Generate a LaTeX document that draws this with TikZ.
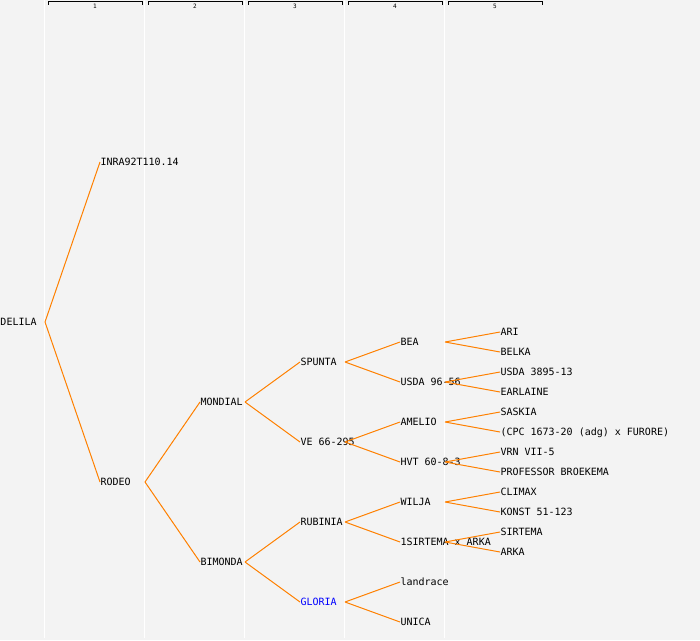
\documentclass[tikz,border=0pt]{standalone}
\usepackage{fontspec}
\newfontfamily\pedfont{DejaVu Sans Mono}
\definecolor{pedbg}{HTML}{F3F3F3}
\definecolor{pedline}{HTML}{FF8000}
\begin{document}
\begin{tikzpicture}[x=1pt,y=-1pt,line width=1pt]
      \tikzstyle{every node}=[inner sep=0pt,anchor=west,text height=7.3pt,text depth=0pt,font=\pedfont\fontsize{10}{12}\selectfont];
      \tikzstyle{edge}=[draw=pedline];
      \tikzstyle{hdr}=[anchor=center,text height=4.4pt,font=\pedfont\fontsize{6}{6}\selectfont];
      \useasboundingbox (0,0) rectangle (700,640);
      \fill[pedbg] (0,0) rectangle (700,640);

      % generation columns
      \foreach \c in {1,...,5} {
        \draw[white] (\c*100-55.5,0) -- (\c*100-55.5,638);
        \draw[black] (\c*100-52,4.5) -- (\c*100-52,1.5) -- (\c*100+42,1.5) -- (\c*100+42,4.5);
        \node[hdr] (h\c) at (\c*100-5,6.3) {\c};
      }

      \node (delila) at (0,322) {DELILA};
      \node (inra) at (100,162) {INRA92T110.14};
      \node (rodeo) at (100,482) {RODEO};
      \node (mondial) at (200,402) {MONDIAL};
      \node (bimonda) at (200,562) {BIMONDA};
      \node (spunta) at (300,362) {SPUNTA};
      \node (ve) at (300,442) {VE 66-295};
      \node (rubinia) at (300,522) {RUBINIA};
      \node[text=blue] (gloria) at (300,602) {GLORIA};
      \node (bea) at (400,342) {BEA};
      \node (usda) at (400,382) {USDA 96-56};
      \node (amelio) at (400,422) {AMELIO};
      \node (hvt) at (400,462) {HVT 60-8-3};
      \node (wilja) at (400,502) {WILJA};
      \node (sxa) at (400,542) {1SIRTEMA x ARKA};
      \node (landrace) at (400,582) {landrace};
      \node (unica) at (400,622) {UNICA};
      \node (ari) at (500,332) {ARI};
      \node (belka) at (500,352) {BELKA};
      \node (usdab) at (500,372) {USDA 3895-13};
      \node (earlaine) at (500,392) {EARLAINE};
      \node (saskia) at (500,412) {SASKIA};
      \node (cpc) at (500,432) {(CPC 1673-20 (adg) x FURORE)};
      \node (vrn) at (500,452) {VRN VII-5};
      \node (professor) at (500,472) {PROFESSOR BROEKEMA};
      \node (climax) at (500,492) {CLIMAX};
      \node (konst) at (500,512) {KONST 51-123};
      \node (sirtema) at (500,532) {SIRTEMA};
      \node (arka) at (500,552) {ARKA};

      % fork points
      \coordinate (delila-f) at (45,322);
      \coordinate (rodeo-f) at (145,482);
      \coordinate (mondial-f) at (245,402);
      \coordinate (bimonda-f) at (245,562);
      \coordinate (spunta-f) at (345,362);
      \coordinate (ve-f) at (345,442);
      \coordinate (rubinia-f) at (345,522);
      \coordinate (gloria-f) at (345,602);
      \coordinate (bea-f) at (445,342);
      \coordinate (usda-f) at (445,382);
      \coordinate (amelio-f) at (445,422);
      \coordinate (hvt-f) at (445,462);
      \coordinate (wilja-f) at (445,502);
      \coordinate (sxa-f) at (445,542);

      \draw[edge] (delila-f) -- (inra.west) (delila-f) -- (rodeo.west)
      (rodeo-f) -- (mondial.west) (rodeo-f) -- (bimonda.west)
      (mondial-f) -- (spunta.west) (mondial-f) -- (ve.west)
      (bimonda-f) -- (rubinia.west) (bimonda-f) -- (gloria.west)
      (spunta-f) -- (bea.west) (spunta-f) -- (usda.west)
      (ve-f) -- (amelio.west) (ve-f) -- (hvt.west)
      (rubinia-f) -- (wilja.west) (rubinia-f) -- (sxa.west)
      (gloria-f) -- (landrace.west) (gloria-f) -- (unica.west)
      (bea-f) -- (ari.west) (bea-f) -- (belka.west)
      (usda-f) -- (usdab.west) (usda-f) -- (earlaine.west)
      (amelio-f) -- (saskia.west) (amelio-f) -- (cpc.west)
      (hvt-f) -- (vrn.west) (hvt-f) -- (professor.west)
      (wilja-f) -- (climax.west) (wilja-f) -- (konst.west)
      (sxa-f) -- (sirtema.west) (sxa-f) -- (arka.west);

    \end{tikzpicture}
\end{document}
